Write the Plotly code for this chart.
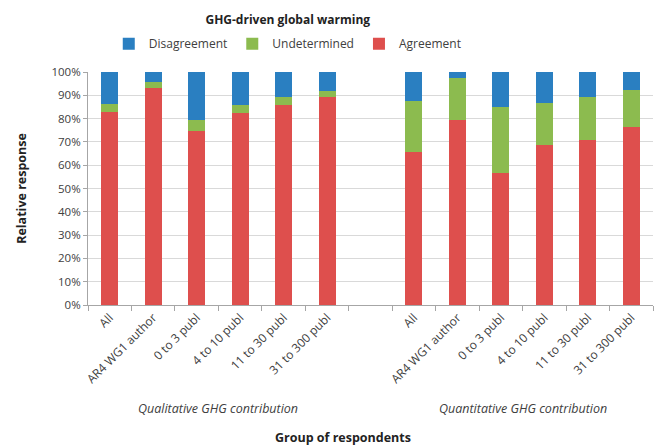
import plotly.graph_objects as go

# respondent groups (two blocks separated by an empty slot)
GROUP_LABELS = ['All', 'AR4 WG1 author', '0 to 3 publ', '4 to 10 publ', '11 to 30 publ', '31 to 300 publ']
BLOCK_NAMES = ['Qualitative GHG contribution', 'Quantitative GHG contribution']

# percentages
qual_agree = [82.7, 93.3, 74.8, 82.3, 85.8, 89.4]
qual_undet = [3.6, 2.4, 4.6, 3.5, 3.6, 2.4]
qual_disagree = [13.7, 4.3, 20.6, 14.2, 10.6, 8.2]

quant_agree = [65.8, 79.3, 56.8, 68.8, 71.0, 76.4]
quant_undet = [21.8, 18.3, 28.3, 17.8, 18.4, 15.9]
quant_disagree = [12.4, 2.4, 14.9, 13.4, 10.6, 7.7]

COLOURS = {'Disagreement': '#2a7fc1', 'Undetermined': '#8cbb4f', 'Agreement': '#de4f4d'}
FONT = 'Open Sans'
TXT = '#404040'

# category ids: unique per bar, plus a blank slot between the blocks
cat_ids = ['ql%d' % i for i in range(6)] + ['gap'] + ['qn%d' % i for i in range(6)]
tick_text = GROUP_LABELS + [''] + GROUP_LABELS

series = {
    'Agreement': qual_agree + [None] + quant_agree,
    'Undetermined': qual_undet + [None] + quant_undet,
    'Disagreement': qual_disagree + [None] + quant_disagree,
}

fig = go.Figure()
for name, vals in series.items():
    fig.add_trace(go.Bar(x=cat_ids, y=vals, name=name,
                         marker=dict(color=COLOURS[name], line=dict(width=0))))

fig.update_layout(
    barmode='stack',
    bargap=0.61,
    width=654, height=447,
    margin=dict(l=88, r=1, t=72, b=142, autoexpand=False),
    plot_bgcolor='white', paper_bgcolor='white',
    font=dict(family=FONT, size=12, color=TXT),
    title=dict(text='<b>GHG-driven global warming</b>', x=0.44, xref='container', xanchor='center',
               y=0.955, yref='container', yanchor='middle', font=dict(size=12, color='#222')),
    legend=dict(orientation='h', traceorder='reversed', x=0.44, xref='container', xanchor='center',
                y=0.902, yref='container', yanchor='middle', font=dict(size=12, color=TXT),
                itemwidth=30, bgcolor='rgba(0,0,0,0)'),
    showlegend=True,
)

fig.update_xaxes(type='category', categoryorder='array', categoryarray=cat_ids,
                 tickvals=cat_ids, ticktext=tick_text, tickangle=-45, automargin=False,
                 tickson='boundaries', ticks='outside', ticklen=5, tickcolor='#a6a6a6',
                 showline=True, linecolor='#a6a6a6', showgrid=False,
                 tickfont=dict(size=12, color=TXT))
fig.update_yaxes(range=[0, 100], dtick=10, ticksuffix='%', ticks='outside', ticklen=4,
                 automargin=False,
                 tickcolor='#a6a6a6', showline=True, linecolor='#a6a6a6',
                 gridcolor='#d9d9d9', tickfont=dict(size=11.5, color=TXT),
                 title=dict(text='<b>Relative response</b>', font=dict(size=12.5, color='#222'),
                            standoff=22))

# block labels and axis title below the tick labels
for xpos, label in zip([2.5, 9.5], BLOCK_NAMES):
    fig.add_annotation(x=xpos, xref='x', y=-0.446, yref='paper', text='<i>%s</i>' % label,
                       showarrow=False, font=dict(size=12.5, color=TXT), yanchor='middle')
fig.add_annotation(x=0.5, xref='paper', y=-0.567, yref='paper', text='<b>Group of respondents</b>',
                   showarrow=False, font=dict(size=12.5, color='#222'), yanchor='middle',
                   xshift=-28)

# drop the page's default body margin so the figure sits at the window's corner
fig.write_html("out.html", config={'displayModeBar': False},
               post_script="document.body.style.margin='0';")
